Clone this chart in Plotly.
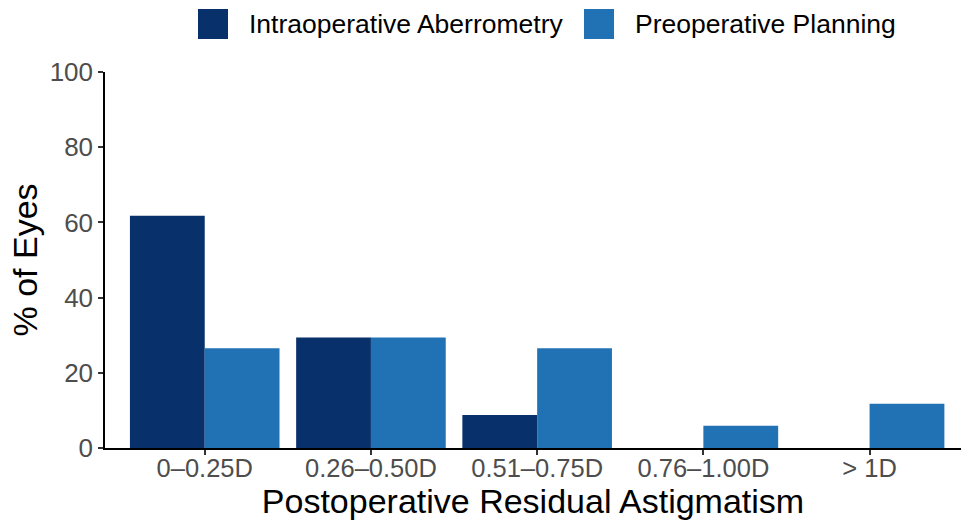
import plotly.graph_objects as go

categories = ["0\u20130.25D", "0.26\u20130.50D", "0.51\u20130.75D", "0.76\u20131.00D", "> 1D"]
series_names = ["Intraoperative Aberrometry", "Preoperative Planning"]
intraoperative = [61.8, 29.4, 8.8, 0.0, 0.0]
preoperative = [26.5, 29.4, 26.5, 5.9, 11.8]
y_ticks = [0, 20, 40, 60, 80, 100]

colors = ["#08306B", "#2171B5"]
FONT = "Liberation Sans, Arial, Helvetica, sans-serif"

W, H = 961, 520
L, R, T, B = 105, 0, 72, 72
pw, ph = W - L - R, H - T - B

def px(x):
    return (x - L) / pw

def py(y):
    return (H - B - y) / ph

fig = go.Figure()
xs = list(range(len(categories)))
for name, vals, c in zip(series_names, [intraoperative, preoperative], colors):
    fig.add_trace(go.Bar(x=xs, y=vals, name=name, marker=dict(color=c, line=dict(width=0)),
                         showlegend=False, hoverinfo="skip"))

# custom legend (large swatches)
shapes = []
annotations = []
legend_pos = [(198, 247), (584, 633)]
for (sx, tx), name, c in zip(legend_pos, series_names, colors):
    shapes.append(dict(type="rect", xref="paper", yref="paper",
                       x0=px(sx), x1=px(sx + 30), y0=py(39), y1=py(9),
                       fillcolor=c, line=dict(width=0)))
    annotations.append(dict(xref="paper", yref="paper", x=px(tx), y=py(24),
                            xanchor="left", yanchor="middle", text=name, showarrow=False,
                            font=dict(family=FONT, size=26.5, color="#000000")))

fig.update_layout(
    width=W, height=H,
    margin=dict(l=L, r=R, t=T, b=B, pad=0, autoexpand=False),
    plot_bgcolor="white", paper_bgcolor="white",
    barmode="group", bargap=0.1, bargroupgap=0,
    shapes=shapes, annotations=annotations,
    font=dict(family=FONT),
    xaxis=dict(
        range=[-0.6, 4.55], tickmode="array", tickvals=xs, ticktext=categories,
        automargin=False, ticklabelstandoff=-8,
        showline=True, linecolor="#000000", linewidth=1.5, showgrid=False, zeroline=False,
        ticks="outside", ticklen=5, tickcolor="#333333", tickwidth=1.5,
        tickfont=dict(size=25.5, color="#4D4D4D", family=FONT),
        title=dict(text="Postoperative Residual Astigmatism", standoff=8,
                   font=dict(size=34, color="#000000", family=FONT)),
    ),
    yaxis=dict(
        range=[0, 100], tickmode="array", tickvals=y_ticks, ticktext=[str(v) for v in y_ticks],
        automargin=False,
        showline=True, linecolor="#000000", linewidth=1.5, showgrid=False, zeroline=False,
        ticks="outside", ticklen=5, tickcolor="#333333", tickwidth=1.5,
        tickfont=dict(size=26, color="#4D4D4D", family=FONT),
        title=dict(text="% of Eyes", standoff=2,
                   font=dict(size=34, color="#000000", family=FONT)),
    ),
)

fig.write_html("out.html", config={"displayModeBar": False},
               post_script="document.body.style.margin='0';document.body.style.overflow='hidden';")
